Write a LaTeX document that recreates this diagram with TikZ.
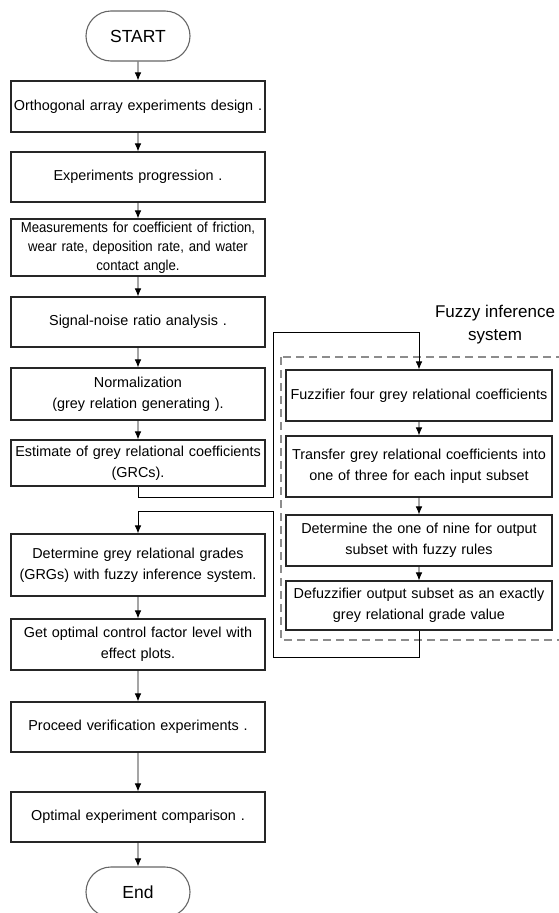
\documentclass[tikz,border=0pt]{standalone}
\usepackage{fontspec}
\setmainfont{Liberation Sans}
\newfontfamily\narrowsans{Liberation Sans}[FakeStretch=0.915]
\usetikzlibrary{arrows.meta}
\tikzset{
  flowbox/.style  = {shape=rectangle, draw=black!85, line width=1.1bp,
                     align=center, text width=246bp, inner xsep=4bp, inner ysep=2bp,
                     minimum height=50bp, font=\fontsize{14.4bp}{21bp}\selectfont},
  terminal/.style = {shape=rectangle, rounded corners=25bp, draw=black!60, line width=1.1bp,
                     minimum width=104bp, minimum height=50bp,
                     font=\fontsize{17.5bp}{21bp}\selectfont},
  fuzzybox/.style = {flowbox, text width=258bp},
  fisframe/.style = {draw=black!45, dash pattern=on 8bp off 5bp, line width=1.2bp},
  fistitle/.style = {align=center, font=\fontsize{17bp}{23bp}\selectfont},
  link/.style     = {draw, line width=0.8bp, -{Latex[length=8bp, width=6.5bp]}}
}

\begin{document}
\begin{tikzpicture}
  [
    x                       = 1bp,
    y                       = -1bp,
    grow                    = down,
    level distance          = 70.5bp,
    edge from parent/.style = {link}
  ]
  \useasboundingbox (0,0) rectangle (559,913);
  % main flow, upper part
  \node [terminal] (start) at (138,36) {START}
    child { node [flowbox, minimum height=51bp, text width=254bp, inner xsep=0bp] (design) {\mbox{Orthogonal array experiments design\ .}}
      child { node [flowbox] (progress) {Experiments progression .}
        child { node [flowbox, minimum height=57bp, inner ysep=1bp,
                      font=\narrowsans\fontsize{14.4bp}{19bp}\selectfont] (measure)
                {Measurements for coefficient of friction,\\wear rate, deposition rate, and water\\contact angle.}
          child [level distance=74.5bp] { node [flowbox] (snr) {Signal-noise ratio analysis .}
            child [level distance=72bp] { node [flowbox, minimum height=52bp] (normal) {Normalization\\(grey relation generating ).}
              child [level distance=69bp] { node [flowbox, minimum height=46bp] (grc) {Estimate of grey relational coefficients\\(GRCs).} }}}}}};
  % main flow, lower part
  \node [flowbox, minimum height=62bp] (grg) at (138,565) {Determine grey relational grades\\(GRGs) with fuzzy inference system.}
    child [level distance=79.5bp] { node [flowbox, minimum height=51bp] (optimal) {Get optimal control factor level with\\effect plots.}
      child [level distance=82.5bp] { node [flowbox] (verify) {Proceed verification experiments .}
        child [level distance=90bp] { node [flowbox] (compare) {Optimal experiment comparison .}
          child [level distance=75bp] { node [terminal] (finish) {End} }}}};
  % fuzzy inference system
  \draw [fisframe] (281,357) rectangle (575,640);
  \node [fistitle] (fistext) at (495,325) {Fuzzy inference\\system};
  \node [fuzzybox, minimum height=51bp] (fuzzify) at (419,395.5) {Fuzzifier four grey relational coefficients}
    child [level distance=71bp] { node [fuzzybox, minimum height=61bp] (transfer) {Transfer grey relational coefficients into\\one of three for each input subset}
      child [level distance=74bp] { node [fuzzybox, minimum height=51bp] (rules) {Determine the one of nine for output\\subset with fuzzy rules}
        child [level distance=65bp] { node [fuzzybox, minimum height=49bp] (defuzzify) {Defuzzifier output subset as an exactly\\grey relational grade value} }}};
  % loop out to the fuzzy system and back
  \coordinate (lane) at (273,332);
  \coordinate (back) at (273,511);
  \draw [link] (grc.south) -- ++(0,11) -| (lane) -| (fuzzify.north);
  \draw [link] (defuzzify.south) -- ++(0,27) -| (back) -| (grg.north);
\end{tikzpicture}
\end{document}
